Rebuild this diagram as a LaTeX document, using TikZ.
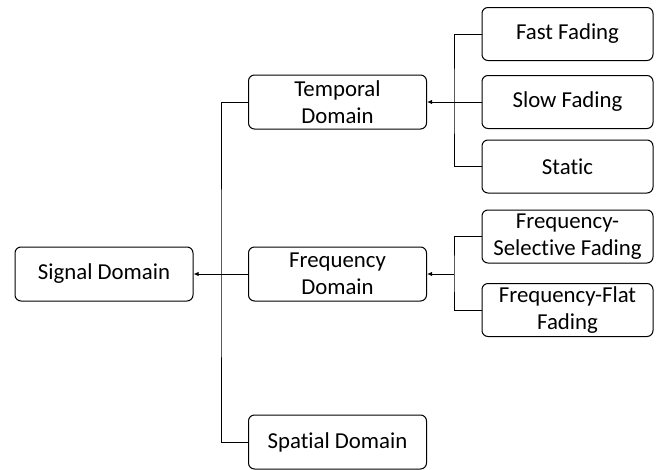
\documentclass[tikz,border=0pt]{standalone}
\usepackage{fontspec}
\setmainfont[Ligatures=NoCommon]{Carlito}
\usetikzlibrary{arrows.meta}
\begin{document}
\begin{tikzpicture}[x=1pt,y=-1pt,
  box/.style={draw=black,line width=1pt,rounded corners=6pt,align=center,
    font=\fontsize{22.8}{27}\selectfont,inner sep=0pt},
  dom/.style={box,minimum width=178pt,minimum height=54pt},
  leaf/.style={box,minimum width=171pt,minimum height=53pt},
  conn/.style={line width=1pt,draw=black},
  arr/.style={conn,-{Latex[length=5pt,width=4.5pt]}}]
\useasboundingbox (0,0) rectangle (659,469);
\node[dom] (sig) at (104,274) {Signal Domain};
\node[dom] (temp) at (337.5,102) {Temporal\\Domain};
\node[dom] (freq) at (337.5,274) {Frequency\\Domain};
\node[dom] (spat) at (337.5,442) {Spatial Domain};
\node[leaf] (fast) at (567.5,34) {Fast Fading};
\node[leaf] (slow) at (567.5,102) {Slow Fading};
\node[leaf] (stat) at (567.5,166.5) {Static};
\node[leaf] (fsel) at (567.5,236.5) {Frequency-\\Selective Fading};
\node[leaf] (fflat) at (567.5,310) {Frequency-Flat\\Fading};
\coordinate (tb) at (454,102);
\coordinate (fb) at (454,274);
\coordinate (sb) at (221,274);
\draw[conn] (fast.west) -| (tb) |- (stat.west);
\draw[arr] (slow.west) -- (temp.east);
\draw[conn] (fsel.west) -| (fb) |- (fflat.west);
\draw[arr] (fb) -- (freq.east);
\draw[conn] (temp.west) -| (sb) |- (spat.west);
\draw[arr] (freq.west) -- (sig.east);
\end{tikzpicture}
\end{document}
